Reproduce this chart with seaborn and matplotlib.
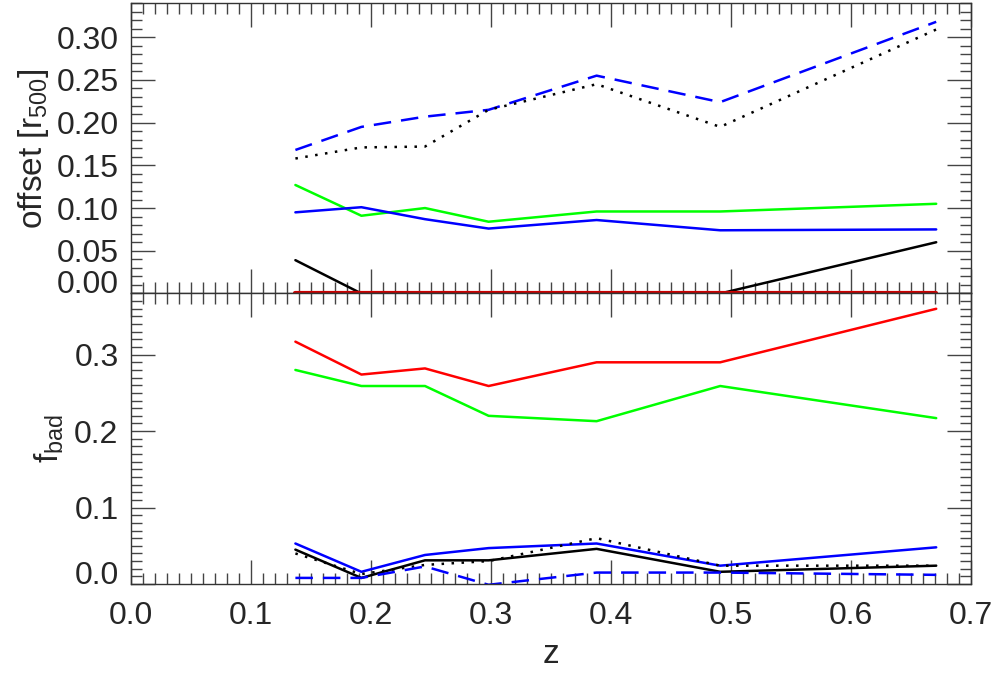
import numpy as np
import matplotlib
matplotlib.use("Agg")
import matplotlib.pyplot as plt
from matplotlib.ticker import MultipleLocator, FormatStrFormatter
import seaborn as sns

# redshift bins
z = [0.137, 0.192, 0.245, 0.298, 0.388, 0.491, 0.671]

# top panel: offset [r500]
off_blue_dash = [0.168, 0.195, 0.207, 0.215, 0.255, 0.224, 0.318]
off_black_dot = [0.158, 0.171, 0.172, 0.215, 0.245, 0.195, 0.309]
off_green = [0.127, 0.091, 0.100, 0.084, 0.096, 0.096, 0.105]
off_blue = [0.095, 0.101, 0.087, 0.076, 0.086, 0.074, 0.075]
off_black = [0.039, 0.0, 0.0, 0.0, 0.0, 0.0, 0.060]
off_red = [0.0, 0.0, 0.0, 0.0, 0.0, 0.0, 0.0]

# bottom panel: f_bad
fb_red = [0.317, 0.274, 0.282, 0.259, 0.290, 0.290, 0.360]
fb_green = [0.280, 0.259, 0.259, 0.220, 0.213, 0.259, 0.217]
fb_blue = [0.053, 0.016, 0.038, 0.047, 0.053, 0.024, 0.048]
fb_black = [0.045, 0.008, 0.031, 0.031, 0.046, 0.016, 0.024]
fb_black_dot = [0.040, 0.013, 0.025, 0.030, 0.060, 0.024, 0.024]
fb_blue_dash = [0.008, 0.008, 0.023, -0.001, 0.015, 0.015, 0.012]

sns.set_style("ticks")
plt.rcParams['font.family'] = ['Liberation Sans', 'DejaVu Sans']
plt.rcParams['mathtext.fontset'] = 'custom'
plt.rcParams['mathtext.rm'] = 'Liberation Sans'
plt.rcParams['mathtext.it'] = 'Liberation Sans'

fig = plt.figure(figsize=(10, 6.73), dpi=100)
ax1 = fig.add_axes([0.131, 0.5639, 0.840, 0.4316])
ax2 = fig.add_axes([0.131, 0.1322, 0.840, 0.4317])

lw = 1.8
dash = (0, (7, 4))
dot = (0, (1, 3))

sns.lineplot(x=z, y=off_blue_dash, ax=ax1, color='blue', linestyle=dash, linewidth=lw)
sns.lineplot(x=z, y=off_black_dot, ax=ax1, color='black', linestyle=dot, linewidth=lw)
sns.lineplot(x=z, y=off_green, ax=ax1, color='#00ff00', linewidth=lw)
sns.lineplot(x=z, y=off_blue, ax=ax1, color='blue', linewidth=lw)
sns.lineplot(x=z, y=off_black, ax=ax1, color='black', linewidth=lw)
sns.lineplot(x=z, y=off_red, ax=ax1, color='#cc0000', linewidth=3)

sns.lineplot(x=z, y=fb_red, ax=ax2, color='red', linewidth=lw)
sns.lineplot(x=z, y=fb_green, ax=ax2, color='#00ff00', linewidth=lw)
sns.lineplot(x=z, y=fb_blue, ax=ax2, color='blue', linewidth=lw)
sns.lineplot(x=z, y=fb_black_dot, ax=ax2, color='black', linestyle=dot, linewidth=lw)
sns.lineplot(x=z, y=fb_black, ax=ax2, color='black', linewidth=lw)
sns.lineplot(x=z, y=fb_blue_dash, ax=ax2, color='blue', linestyle=dash, linewidth=lw)

for ax in (ax1, ax2):
    ax.set_xlim(0, 0.7)
    ax.xaxis.set_major_locator(MultipleLocator(0.1))
    ax.xaxis.set_minor_locator(MultipleLocator(0.01))
    ax.tick_params(which='both', direction='in', top=True, right=True,
                   labelsize=23, color='#444444', pad=9)
    ax.tick_params(which='major', length=17, width=1)
    ax.tick_params(which='minor', length=8, width=1)
    for s in ax.spines.values():
        s.set_linewidth(1)
        s.set_color('#333333')

ax1.set_ylim(0, 0.34)
ax1.yaxis.set_major_locator(MultipleLocator(0.05))
ax1.yaxis.set_minor_locator(MultipleLocator(0.01))
ax1.yaxis.set_major_formatter(FormatStrFormatter('%.2f'))
ax1.tick_params(labelbottom=False)
ax1.set_ylabel('offset [r$\\mathregular{_{500}}$]', fontsize=24, labelpad=4)

ax2.set_ylim(0, 0.38)
ax2.yaxis.set_major_locator(MultipleLocator(0.1))
ax2.yaxis.set_minor_locator(MultipleLocator(0.01))
ax2.yaxis.set_major_formatter(FormatStrFormatter('%.1f'))
ax2.set_ylabel('f$\\mathregular{_{bad}}$', fontsize=24, labelpad=6)
ax2.set_xlabel('z', fontsize=24, labelpad=6)
ax2.tick_params(axis='x', pad=12)

# put the zero label on the panel edge (baseline), like the original
fig.canvas.draw()
for ax in (ax1, ax2):
    for tick in ax.yaxis.get_major_ticks():
        if abs(tick.get_loc()) < 1e-9:
            tick.label1.set_va('baseline')

fig.savefig('out.png', dpi=100)
